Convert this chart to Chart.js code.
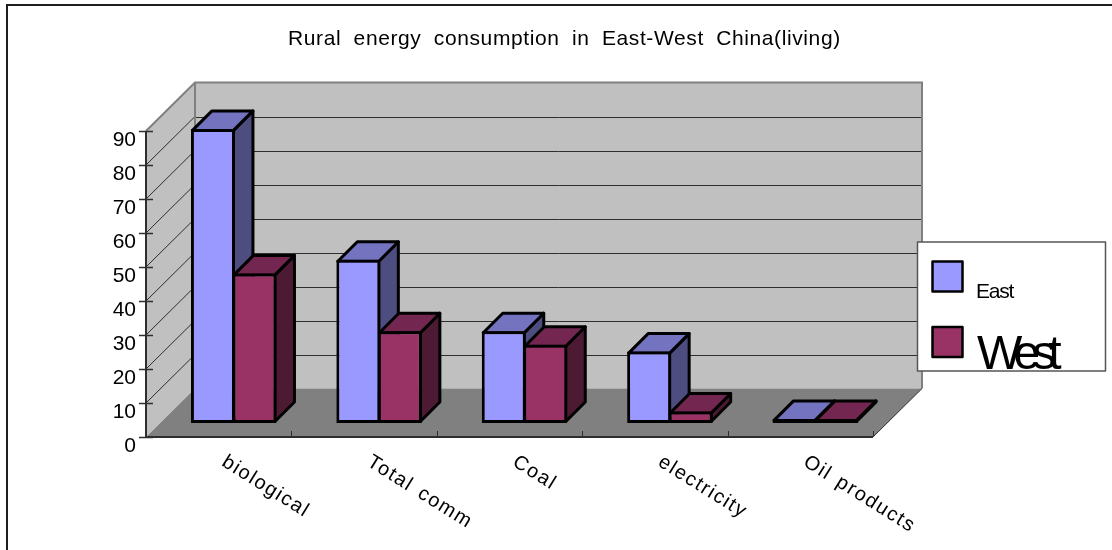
<!DOCTYPE html>
<html>
<head>
<meta charset="utf-8">
<title>Rural energy consumption</title>
<style>
  html, body { margin: 0; padding: 0; background: #fff; }
  canvas { display: block; }
</style>
<script src="https://cdn.jsdelivr.net/npm/chart.js@4/dist/chart.umd.min.js"></script>
</head>
<body>
<canvas id="chart" width="1112" height="550"></canvas>
<script>
const titleText = 'Rural energy consumption in East-West China(living)';
const categories = ['biological', 'Total comm', 'Coal', 'electricity', 'Oil products'];
const eastValues = [86.5, 48, 27, 21, 1.2];
const westValues = [44, 27, 23, 3.4, 1.2];
const seriesNames = ['East', 'West'];

const FONT = '"Liberation Sans", Arial, sans-serif';
const INK = '#000000';
const WALL = '#c0c0c0';
const FLOOR = '#808080';
const EDGE = '#808080';
const RULE = '#2e2e2e';
const palette = [
  { front: '#9999ff', top: '#7373bf', side: '#4d4d80' },
  { front: '#993366', top: '#732650', side: '#4d1a33' }
];

// Projection of the chart box: how far the back wall sits from the front plane,
// and where the bars stand inside that depth.
const BOX_DX = 49, BOX_DY = -48.5;
const BAR_SHIFT_X = 15, BAR_SHIFT_Y = -14;
const BAR_DX = 19.5, BAR_DY = -19.5;
const OUTLINE = 3;

function poly(ctx, pts, fill, stroke, width) {
  ctx.beginPath();
  pts.forEach((p, i) => i ? ctx.lineTo(p[0], p[1]) : ctx.moveTo(p[0], p[1]));
  ctx.closePath();
  if (fill) { ctx.fillStyle = fill; ctx.fill(); }
  if (stroke) { ctx.strokeStyle = stroke; ctx.lineWidth = width; ctx.lineJoin = 'round'; ctx.stroke(); }
}

function line(ctx, x1, y1, x2, y2, color, width) {
  ctx.beginPath();
  ctx.moveTo(x1, y1);
  ctx.lineTo(x2, y2);
  ctx.strokeStyle = color;
  ctx.lineWidth = width;
  ctx.stroke();
}

function drawBox(chart) {
  const ctx = chart.ctx, y = chart.scales.y, x = chart.scales.x;
  const l = x.left, r = x.right, b = y.bottom, t = y.top;

  // outer frame: top and left only
  ctx.fillStyle = '#1e1e1e';
  ctx.fillRect(6, 4, 1106, 2);
  ctx.fillRect(6, 4, 2, 546);

  // walls and floor
  poly(ctx, [[l, t], [l + BOX_DX, t + BOX_DY], [l + BOX_DX, b + BOX_DY], [l, b]], WALL);
  poly(ctx, [[l + BOX_DX, t + BOX_DY], [r + BOX_DX, t + BOX_DY], [r + BOX_DX, b + BOX_DY], [l + BOX_DX, b + BOX_DY]], WALL);

  // gridlines run along the side wall, then across the back wall
  y.ticks.forEach(tick => {
    const py = y.getPixelForValue(tick.value);
    if (tick.value > 0 && tick.value < y.max) {
      line(ctx, l, py, l + BOX_DX, py + BOX_DY, RULE, 1);
      const by = Math.round(py + BOX_DY) + 0.5;
      line(ctx, l + BOX_DX, by, r + BOX_DX, by, RULE, 1);
    }
  });

  poly(ctx, [[l, b], [r, b], [r + BOX_DX, b + BOX_DY], [l + BOX_DX, b + BOX_DY]], FLOOR);

  // wall edges
  ctx.beginPath();
  ctx.moveTo(l, t);
  ctx.lineTo(l + BOX_DX, t + BOX_DY);
  ctx.lineTo(r + BOX_DX, t + BOX_DY);
  ctx.lineTo(r + BOX_DX, b + BOX_DY);
  ctx.moveTo(l + BOX_DX, t + BOX_DY);
  ctx.lineTo(l + BOX_DX, b + BOX_DY);
  ctx.strokeStyle = EDGE;
  ctx.lineWidth = 2;
  ctx.stroke();

  // axes and tick marks
  line(ctx, r, b, r + BOX_DX, b + BOX_DY, RULE, 1);
  line(ctx, l, t, l, b + 1, RULE, 2);
  line(ctx, l - 1, b, r, b, RULE, 2);
  y.ticks.forEach(tick => {
    const py = Math.round(y.getPixelForValue(tick.value)) + 0.5;
    line(ctx, l - 7, py, l + 7, py, RULE, 1.5);
  });
  const step = (r - l) / categories.length;
  categories.forEach((_, i) => {
    const px = Math.round(x.getPixelForTick(i) + step / 2) + 0.5;
    line(ctx, px, b, px, b - 6, RULE, 1);
  });
}

function drawBarDepth(chart) {
  const ctx = chart.ctx;
  const half = OUTLINE / 2;
  categories.forEach((_, i) => {
    [0, 1].forEach(ds => {
      const bar = chart.getDatasetMeta(ds).data[i];
      const c = palette[ds];
      const x0 = bar.x - bar.width / 2 + half + BAR_SHIFT_X;
      const x1 = bar.x + bar.width / 2 - half + BAR_SHIFT_X;
      const yTop = bar.y + half + BAR_SHIFT_Y;
      const yBase = bar.base - half + BAR_SHIFT_Y;
      poly(ctx, [[x1, yTop], [x1 + BAR_DX, yTop + BAR_DY], [x1 + BAR_DX, yBase + BAR_DY], [x1, yBase]], c.side, INK, OUTLINE);
      poly(ctx, [[x0, yTop], [x0 + BAR_DX, yTop + BAR_DY], [x1 + BAR_DX, yTop + BAR_DY], [x1, yTop]], c.top, INK, OUTLINE);
    });
  });
}

function drawTexts(chart) {
  const ctx = chart.ctx, x = chart.scales.x;

  ctx.save();
  ctx.fillStyle = INK;
  ctx.textAlign = 'left';
  ctx.textBaseline = 'alphabetic';
  ctx.font = '21px ' + FONT;
  ctx.letterSpacing = '0.6px';
  ctx.wordSpacing = '6px';
  ctx.fillText(titleText, 288, 45);
  ctx.font = '20px ' + FONT;
  ctx.wordSpacing = '2px';
  ctx.letterSpacing = '1.6px';
  categories.forEach((label, i) => {
    ctx.save();
    ctx.translate(x.getPixelForTick(i) + 2, 465);
    ctx.rotate(32 * Math.PI / 180);
    ctx.fillText(label, 0, 0);
    ctx.restore();
  });
  ctx.restore();
}

function drawKey(chart) {
  const ctx = chart.ctx;
  ctx.save();
  ctx.fillStyle = '#ffffff';
  ctx.fillRect(917.5, 242, 188, 129);
  ctx.strokeStyle = '#555555';
  ctx.lineWidth = 1.5;
  ctx.strokeRect(917.5, 242, 188, 129);

  const swatchY = [261.5, 327];
  palette.forEach((c, i) => {
    ctx.fillStyle = c.front;
    ctx.fillRect(932.5, swatchY[i], 30, 30);
    ctx.strokeStyle = INK;
    ctx.lineWidth = 2.5;
    ctx.strokeRect(932.5, swatchY[i], 30, 30);
  });

  ctx.fillStyle = INK;
  ctx.textBaseline = 'alphabetic';
  ctx.font = '21px ' + FONT;
  ctx.letterSpacing = '-1.2px';
  ctx.fillText(seriesNames[0], 976, 298);
  ctx.font = '48px ' + FONT;
  ctx.letterSpacing = '-8px';
  ctx.fillText(seriesNames[1], 977, 369);
  ctx.restore();
}

const boxPlugin = {
  id: 'box3d',
  beforeDatasetsDraw(chart) {
    drawBox(chart);
    drawBarDepth(chart);
    chart.ctx.save();
    chart.ctx.translate(BAR_SHIFT_X, BAR_SHIFT_Y);
  },
  afterDatasetsDraw(chart) {
    chart.ctx.restore();
  },
  afterDraw(chart) {
    drawTexts(chart);
    drawKey(chart);
  }
};

new Chart(document.getElementById('chart'), {
  type: 'bar',
  data: {
    labels: categories,
    datasets: [
      { label: seriesNames[0], data: eastValues, backgroundColor: palette[0].front },
      { label: seriesNames[1], data: westValues, backgroundColor: palette[1].front }
    ]
  },
  options: {
    responsive: false,
    animation: false,
    layout: { autoPadding: false, padding: { left: 106, right: 239, top: 131, bottom: 113 } },
    datasets: {
      bar: {
        categoryPercentage: 0.571,
        barPercentage: 1.06,
        borderColor: INK,
        borderWidth: OUTLINE,
        borderSkipped: false,
        inflateAmount: 0,
        clip: false
      }
    },
    plugins: { legend: { display: false }, title: { display: false }, tooltip: { enabled: false } },
    scales: {
      x: {
        grid: { display: false, drawTicks: false },
        border: { display: false },
        ticks: { display: false }
      },
      y: {
        min: 0,
        max: 90,
        afterFit(scale) { scale.width = 40; },
        grid: { display: false, drawTicks: false },
        border: { display: false },
        ticks: { stepSize: 10, padding: 10, labelOffset: 9.5, color: INK, font: { family: FONT, size: 21 } }
      }
    }
  },
  plugins: [boxPlugin]
});
</script>
</body>
</html>
